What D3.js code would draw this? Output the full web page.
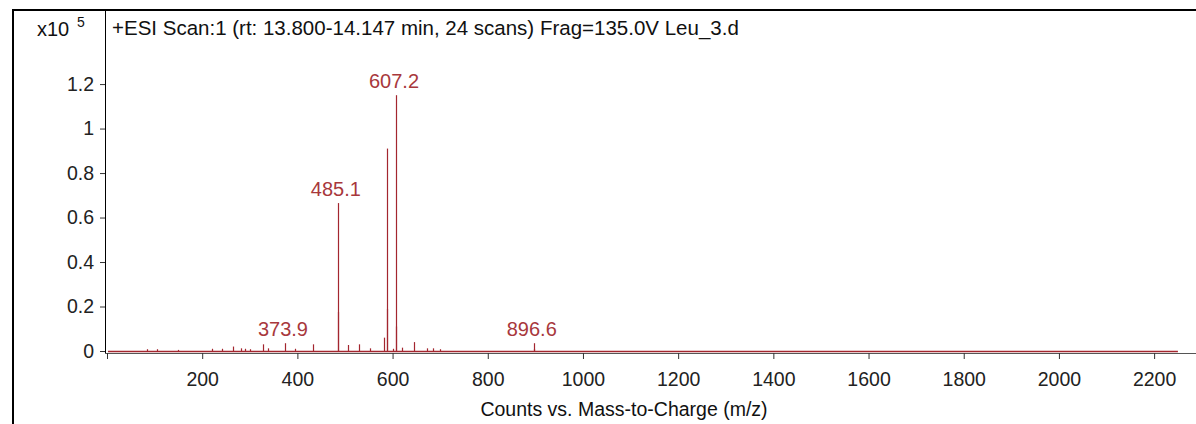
<!DOCTYPE html>
<html><head><meta charset="utf-8">
<script src="https://cdn.jsdelivr.net/npm/d3@7"></script>
<style>
html,body{margin:0;padding:0;background:#fff;}
svg{display:block;font-family:"Liberation Sans",Arial,sans-serif;}
</style></head>
<body>
<svg id="c" width="1196" height="424"></svg>
<script>
// m/z of peaks and intensities (x10^5 counts)
const peakMz = [84, 105, 150, 221, 241, 265, 281, 290, 300, 328, 338, 373.9, 395, 433,
  485.1, 486.1, 506, 529, 552, 583, 588.2, 589.2, 600, 607.2, 608.2, 620, 645, 672, 685, 700, 896.6, 898];
const peakInt = [0.008, 0.008, 0.005, 0.01, 0.01, 0.02, 0.012, 0.01, 0.008, 0.03, 0.012, 0.035, 0.01, 0.03,
  0.665, 0.175, 0.027, 0.03, 0.012, 0.06, 0.91, 0.19, 0.01, 1.15, 0.11, 0.015, 0.04, 0.012, 0.012, 0.008, 0.035, 0.01];
const labeledMz = [373.9, 485.1, 607.2, 896.6];
const labelText = ["373.9", "485.1", "607.2", "896.6"];
const xTicks = [0, 200, 400, 600, 800, 1000, 1200, 1400, 1600, 1800, 2000, 2200];
const yTicks = [0, 0.2, 0.4, 0.6, 0.8, 1, 1.2];
const scanRange = [2, 2250];
const title = "+ESI Scan:1 (rt: 13.800-14.147 min, 24 scans) Frag=135.0V Leu_3.d";
const xTitle = "Counts vs. Mass-to-Charge (m/z)";

const svg = d3.select("#c");
const x = d3.scaleLinear().domain([0, 2288]).range([107, 1196]);
const y = d3.scaleLinear().domain([0, 1.533]).range([351, 10]);
const red = "#a3262f";
const labelRed = "#a8383c";
const FONT = "Liberation Sans, Arial, sans-serif";

// frame
svg.append("line").attr("x1", 13).attr("x2", 13).attr("y1", 9).attr("y2", 424).attr("stroke", "#000").attr("stroke-width", 2);
svg.append("line").attr("x1", 12).attr("x2", 1196).attr("y1", 10).attr("y2", 10).attr("stroke", "#000").attr("stroke-width", 2);

// y axis
const yAxis = svg.append("g").attr("transform", "translate(105,0)")
  .call(d3.axisLeft(y).tickValues(yTicks).tickSize(5).tickPadding(6).tickFormat(d => String(+d.toFixed(1))));
yAxis.select(".domain").attr("d", "M0.5,10V353");
yAxis.selectAll("text").attr("font-size", 19.5).attr("fill", "#222").attr("font-family", FONT);
yAxis.selectAll("line").attr("stroke", "#333");

// x axis
const xAxis = svg.append("g").attr("transform", "translate(0,353)")
  .call(d3.axisBottom(x).tickValues(xTicks).tickSize(6).tickPadding(13).tickFormat(d => d === 0 ? "" : d));
xAxis.select(".domain").attr("d", "M105,0.5H1196").attr("stroke", "#555");
xAxis.selectAll("text").attr("font-size", 19.5).attr("fill", "#222").attr("font-family", FONT);
xAxis.selectAll("line").attr("stroke", "#333");

// baseline trace
svg.append("line").attr("x1", x(scanRange[0])).attr("x2", x(scanRange[1]))
  .attr("y1", y(0) + 0.5).attr("y2", y(0) + 0.5).attr("stroke", red).attr("stroke-width", 1.5);

// sticks
svg.append("g").selectAll("line").data(peakMz).join("line")
  .attr("x1", d => Math.round(x(d)) + 0.5).attr("x2", d => Math.round(x(d)) + 0.5)
  .attr("y1", y(0)).attr("y2", (d, i) => y(peakInt[i]))
  .attr("stroke", red).attr("stroke-width", 1.2);

// peak labels
svg.append("g").selectAll("text").data(labeledMz).join("text")
  .attr("x", d => x(d) - 2)
  .attr("y", d => { const v = peakInt[peakMz.indexOf(d)]; return Math.min(y(v), y(0.035)) - 7; })
  .attr("text-anchor", "middle").attr("font-size", 20).attr("fill", labelRed)
  .text((d, i) => labelText[i]);

// title and multiplier
svg.append("text").attr("x", 112).attr("y", 35).attr("font-size", 20.5).attr("fill", "#111").text(title);
svg.append("text").attr("x", 37).attr("y", 36).attr("font-size", 20).attr("fill", "#111").text("x10");
svg.append("text").attr("x", 77).attr("y", 27).attr("font-size", 14).attr("fill", "#111").text("5");

// x axis title
svg.append("text").attr("x", 624).attr("y", 416).attr("text-anchor", "middle").attr("font-size", 19.5).attr("fill", "#111").text(xTitle);
</script>
</body></html>
